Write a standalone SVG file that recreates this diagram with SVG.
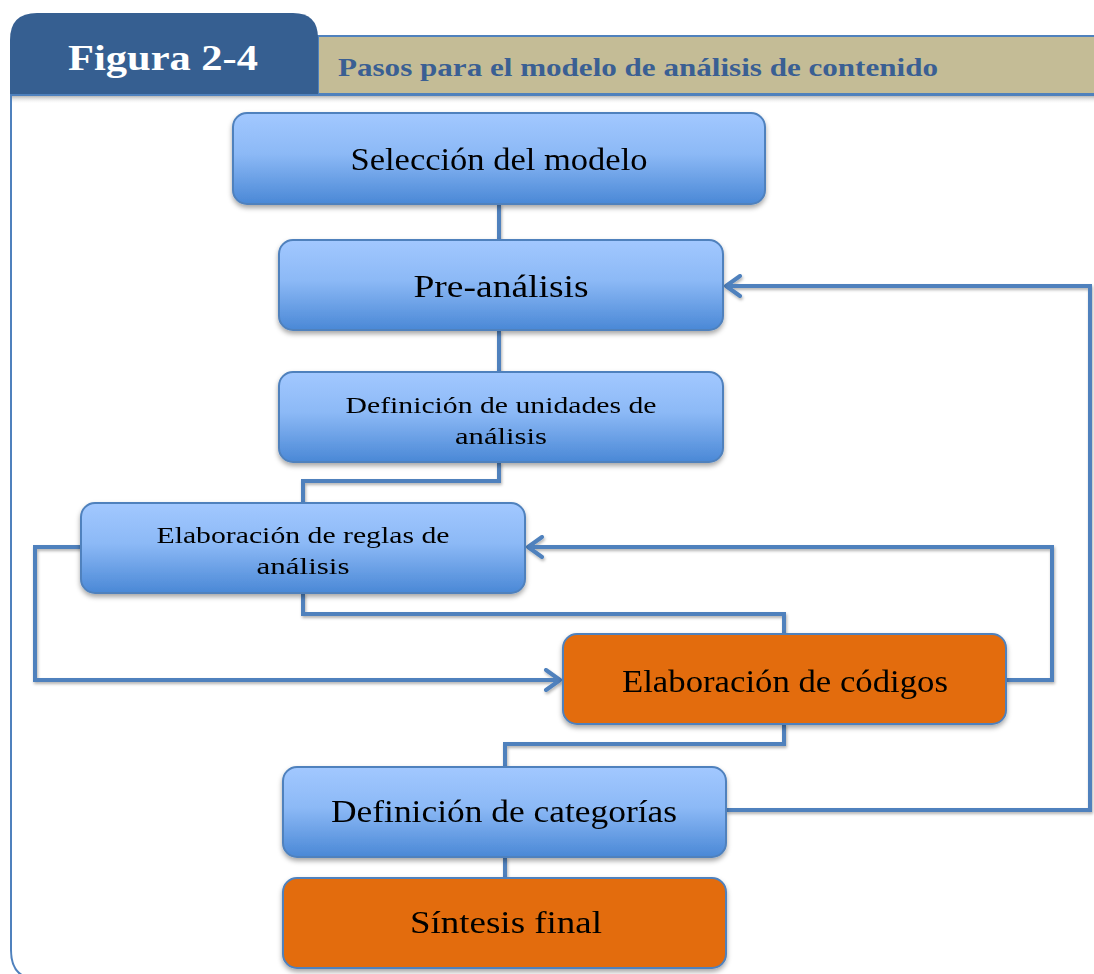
<svg xmlns="http://www.w3.org/2000/svg" width="1094" height="974" viewBox="0 0 1094 974">
<defs>
<linearGradient id="gBlue" x1="0" y1="0" x2="0" y2="1">
<stop offset="0" stop-color="#a2c8ff"/>
<stop offset="0.45" stop-color="#8cb9f6"/>
<stop offset="1" stop-color="#4a88d6"/>
</linearGradient>
<linearGradient id="gShadow" x1="0" y1="0" x2="0" y2="1">
<stop offset="0" stop-color="#b8b8b8"/>
<stop offset="1" stop-color="#ffffff" stop-opacity="0"/>
</linearGradient>
<filter id="sh" x="-10%" y="-10%" width="120%" height="130%">
<feDropShadow dx="0" dy="3" stdDeviation="2.5" flood-color="#000" flood-opacity="0.35"/>
</filter>
<filter id="lsh" x="-5%" y="-5%" width="110%" height="110%">
<feDropShadow dx="1" dy="2" stdDeviation="1.5" flood-color="#000" flood-opacity="0.3"/>
</filter>
<marker id="arr" markerUnits="userSpaceOnUse" viewBox="-18 -12 20 24" refX="0" refY="0" markerWidth="20" markerHeight="24" orient="auto">
<path d="M -15,-10 L -1,0 L -15,10" fill="none" stroke="#4f81bd" stroke-width="4" stroke-linecap="round" stroke-linejoin="round"/>
</marker>
</defs>
<style>
.blue{fill:url(#gBlue);stroke:#4f81bd;stroke-width:2}
.orange{fill:#e36c0a;stroke:#4f81bd;stroke-width:2}
.t{font-family:"Liberation Serif","DejaVu Serif",serif;fill:#000;text-anchor:middle}
.big{font-size:31px}
.small{font-size:24px}
.conn{fill:none;stroke:#4f81bd;stroke-width:4;stroke-linejoin:miter}
</style>
<rect width="1094" height="974" fill="#fff"/>
<g id="header">
<rect x="10" y="96" width="1084" height="8" fill="url(#gShadow)"/>
<path d="M11,96 L11,950 Q11,979 38,979 L1094,979" fill="none" stroke="#4f81bd" stroke-width="2"/>
<rect x="318" y="36" width="780" height="58" fill="#c4bc96" stroke="#4f81bd" stroke-width="2"/>
<path d="M10,95 L10,40 Q10,13 37,13 L293,13 Q318,13 318,38 L318,95 Z" fill="#365f91"/>
<line x1="10" y1="95" x2="1094" y2="95" stroke="#4f81bd" stroke-width="2"/>
<text x="163" y="70" font-family="Liberation Serif,DejaVu Serif,serif" font-weight="bold" font-size="35" fill="#fff" text-anchor="middle" textLength="190" lengthAdjust="spacingAndGlyphs">Figura 2-4</text>
<text x="638" y="76" font-family="Liberation Serif,DejaVu Serif,serif" font-weight="bold" font-size="25" fill="#3a5f93" text-anchor="middle" textLength="600" lengthAdjust="spacingAndGlyphs">Pasos para el modelo de análisis de contenido</text>
</g>
<g id="connectors" filter="url(#lsh)">
<path class="conn" d="M499,204 L499,240"/>
<path class="conn" d="M499,330 L499,372"/>
<path class="conn" d="M499,462 L499,481 L303,481 L303,503"/>
<path class="conn" d="M303,593 L303,614 L784,614 L784,634"/>
<path class="conn" d="M81,547 L35,547 L35,680 L561,680" marker-end="url(#arr)"/>
<path class="conn" d="M1006,680 L1052,680 L1052,547 L527,547" marker-end="url(#arr)"/>
<path class="conn" d="M784,724 L784,744 L505,744 L505,767"/>
<path class="conn" d="M726,810 L1090,810 L1090,286 L725,286" marker-end="url(#arr)"/>
<path class="conn" d="M505,857 L505,878"/>
</g>
<g id="n1" filter="url(#sh)">
<rect class="blue" x="233" y="113" width="532" height="91" rx="14"/>
<text class="t big" x="499" y="170" textLength="297" lengthAdjust="spacingAndGlyphs">Selección del modelo</text>
</g>
<g id="n2" filter="url(#sh)">
<rect class="blue" x="279" y="240" width="444" height="90" rx="14"/>
<text class="t big" x="501" y="297" textLength="175" lengthAdjust="spacingAndGlyphs">Pre-análisis</text>
</g>
<g id="n3" filter="url(#sh)">
<rect class="blue" x="279" y="372" width="444" height="90" rx="14"/>
<text class="t small" x="501" y="413" textLength="311" lengthAdjust="spacingAndGlyphs">Definición de unidades de</text>
<text class="t small" x="501" y="444" textLength="92" lengthAdjust="spacingAndGlyphs">análisis</text>
</g>
<g id="n4" filter="url(#sh)">
<rect class="blue" x="81" y="503" width="444" height="90" rx="14"/>
<text class="t small" x="303" y="543" textLength="293" lengthAdjust="spacingAndGlyphs">Elaboración de reglas de</text>
<text class="t small" x="303" y="574" textLength="93" lengthAdjust="spacingAndGlyphs">análisis</text>
</g>
<g id="n5" filter="url(#sh)">
<rect class="orange" x="563" y="634" width="443" height="90" rx="14"/>
<text class="t big" x="785" y="692" textLength="326" lengthAdjust="spacingAndGlyphs">Elaboración de códigos</text>
</g>
<g id="n6" filter="url(#sh)">
<rect class="blue" x="283" y="767" width="443" height="90" rx="14"/>
<text class="t big" x="504" y="822" textLength="346" lengthAdjust="spacingAndGlyphs">Definición de categorías</text>
</g>
<g id="n7" filter="url(#sh)">
<rect class="orange" x="283" y="878" width="443" height="90" rx="14"/>
<text class="t big" x="506" y="933" textLength="192" lengthAdjust="spacingAndGlyphs">Síntesis final</text>
</g>
</svg>
